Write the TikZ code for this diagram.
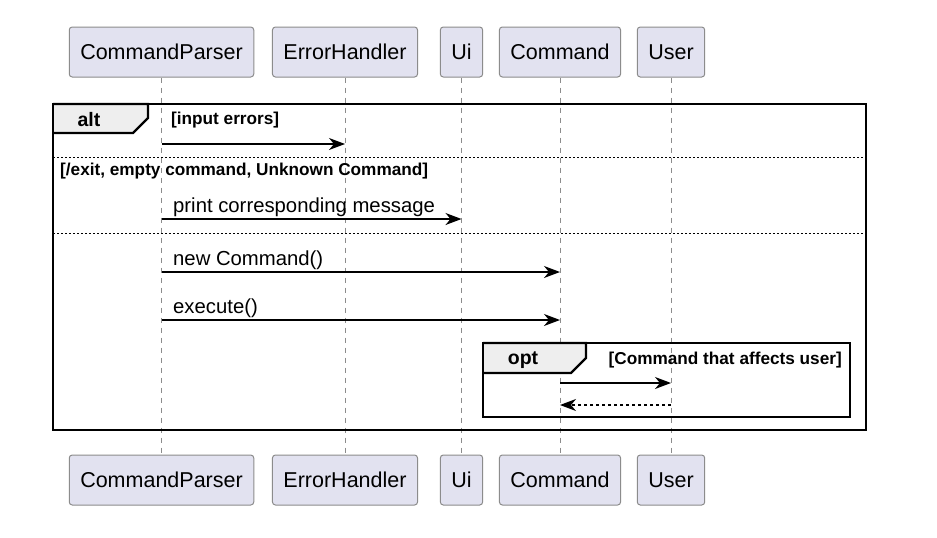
\documentclass[tikz,border=0pt]{standalone}
\usepackage{fontspec}
\setmainfont{Liberation Sans}
\usetikzlibrary{arrows.meta}
\definecolor{partfill}{HTML}{E2E2F0}
\definecolor{partline}{HTML}{8C8C8C}
\definecolor{tabfill}{HTML}{EEEEEE}

\begin{document}
\begin{tikzpicture}[x=1pt,y=-1pt,
		participant/.style={draw=partline,fill=partfill,rounded corners=3pt,line width=1pt,minimum height=50pt,inner xsep=11pt,font=\fontsize{21.5}{25}\selectfont},
		lifeline/.style={draw=partline,line width=0.9pt,dash pattern=on 5pt off 5pt},
		msg/.style={line width=1.4pt,-{Stealth[length=16pt,width=12pt,inset=5pt]}},
		reply/.style={msg,dash pattern=on 3pt off 3pt},
		msglabel/.style={anchor=base west,inner sep=0pt,font=\fontsize{20.3}{24}\selectfont},
		guard/.style={inner sep=0pt,font=\fontsize{17.2}{20}\selectfont\bfseries},
		frameline/.style={line width=2.4pt},
		sepline/.style={line width=1pt,dash pattern=on 2pt off 2pt},
		tablabel/.style={inner sep=0pt,font=\fontsize{19.5}{22}\selectfont\bfseries}]
		
		\useasboundingbox[fill=white] (0,0) rectangle (937,538);
		
		% participants, top and bottom
		\node[participant] (parserTop) at (161.5,52) {CommandParser};
		\node[participant] (handlerTop) at (345,52) {ErrorHandler};
		\node[participant] (uiTop) at (461.5,52) {Ui};
		\node[participant] (commandTop) at (560,52) {Command};
		\node[participant] (userTop) at (671,52) {User};
		
		\node[participant] (parserBot) at (161.5,480) {CommandParser};
		\node[participant] (handlerBot) at (345,480) {ErrorHandler};
		\node[participant] (uiBot) at (461.5,480) {Ui};
		\node[participant] (commandBot) at (560,480) {Command};
		\node[participant] (userBot) at (671,480) {User};
		
		% lifelines
		\draw[lifeline] (parserTop) to (parserBot);
		\draw[lifeline] (handlerTop) to (handlerBot);
		\draw[lifeline] (uiTop) to (uiBot);
		\draw[lifeline] (commandTop) to (commandBot);
		\draw[lifeline] (userTop) to (userBot);
		
		% alt frame
		\draw[frameline,fill=tabfill] (53,104) to (148,104) to (148,118) to (133,133) to (53,133);
		\draw[frameline] (53,104) rectangle (866,430);
		\node[tablabel] (altLabel) at (89,120) {alt};
		\node[guard,anchor=west] (errGuard) at (171,120) {[input errors]};
		\draw[sepline] (53,157) to (866,157);
		\node[guard,anchor=west] (exitGuard) at (60,171) {[/exit, empty command, Unknown Command]};
		\draw[sepline] (53,233) to (866,233);
		
		% opt frame
		\draw[frameline,fill=tabfill] (483,343) to (586,343) to (586,358) to (571,373) to (483,373);
		\draw[frameline] (483,343) rectangle (850,417);
		\node[tablabel] (optLabel) at (523,360) {opt};
		\node[guard,anchor=east] (userGuard) at (842,360) {[Command that affects user]};
		
		% message rows
		\coordinate (rowErr) at (0,144);
		\coordinate (rowPrint) at (0,219);
		\coordinate (rowNew) at (0,272);
		\coordinate (rowExec) at (0,320);
		\coordinate (rowAffect) at (0,383);
		\coordinate (rowBack) at (0,405);
		
		\draw[msg] (parserTop |- rowErr) to (handlerTop |- rowErr);
		\draw[msg] (parserTop |- rowPrint) to (uiTop |- rowPrint);
		\node[msglabel] (printLabel) at (173,212) {print corresponding message};
		\draw[msg] (parserTop |- rowNew) to (commandTop |- rowNew);
		\node[msglabel] (newLabel) at (173,265) {new Command()};
		\draw[msg] (parserTop |- rowExec) to (commandTop |- rowExec);
		\node[msglabel] (execLabel) at (173,313) {execute()};
		\draw[msg] (commandTop |- rowAffect) to (userTop |- rowAffect);
		\draw[reply] (userTop |- rowBack) to (commandTop |- rowBack);
		
	\end{tikzpicture}
\end{document}
